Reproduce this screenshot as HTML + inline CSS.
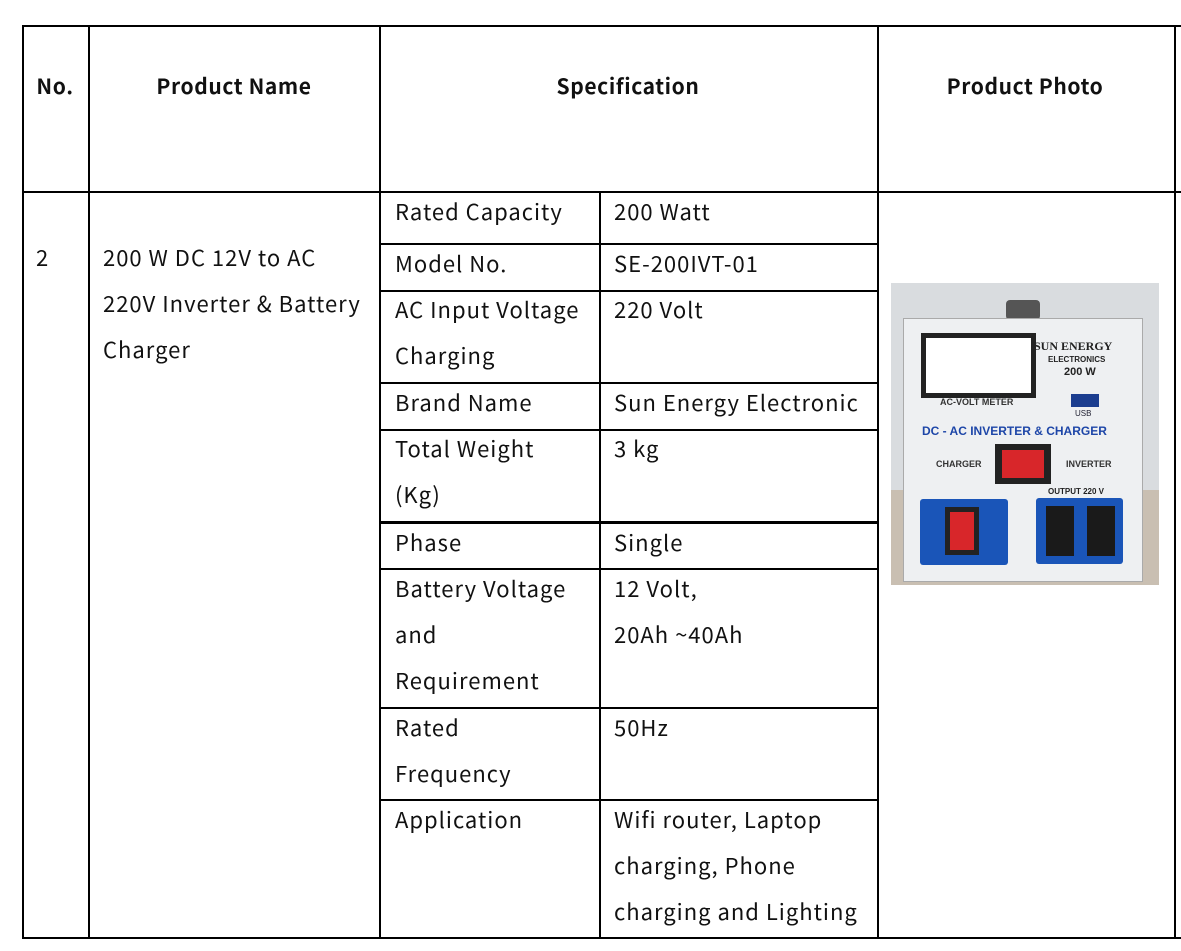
<!DOCTYPE html>
<html><head><meta charset="utf-8"><style>
body{margin:0;width:1181px;height:951px;background:#fff;position:relative;overflow:hidden;font-family:"Noto Sans CJK JP","Liberation Sans",sans-serif;color:#111}
.h{position:absolute;background:#000;height:1.5px}
.v{position:absolute;background:#000;width:1.5px}
.t{position:absolute;font-size:22px;line-height:46px;white-space:nowrap;letter-spacing:1px;margin-top:-2px}
.b{font-weight:bold;font-size:21px;letter-spacing:0.6px;transform:translateX(-50%);margin-top:0}
.p{position:absolute}
</style></head><body>
<div class="h" style="left:22px;top:25px;width:1159px"></div>
<div class="h" style="left:22px;top:191px;width:1159px"></div>
<div class="h" style="left:22px;top:937px;width:1159px"></div>
<div class="v" style="left:22px;top:25px;height:913px"></div>
<div class="v" style="left:88px;top:25px;height:913px"></div>
<div class="v" style="left:379px;top:25px;height:913px"></div>
<div class="v" style="left:599px;top:192px;height:746px"></div>
<div class="v" style="left:877px;top:25px;height:913px"></div>
<div class="v" style="left:1174px;top:25px;height:913px"></div>
<div class="h" style="left:379px;top:243px;width:498px"></div>
<div class="h" style="left:379px;top:290px;width:498px"></div>
<div class="h" style="left:379px;top:382px;width:498px"></div>
<div class="h" style="left:379px;top:429px;width:498px"></div>
<div class="h" style="left:379px;top:521px;width:498px;height:2.5px"></div>
<div class="h" style="left:379px;top:568px;width:498px"></div>
<div class="h" style="left:379px;top:707px;width:498px"></div>
<div class="h" style="left:379px;top:799px;width:498px"></div>

<div class="t b" style="left:55px;top:63px">No.</div>
<div class="t b" style="left:234px;top:63px">Product Name</div>
<div class="t b" style="left:628px;top:63px">Specification</div>
<div class="t b" style="left:1025px;top:63px">Product Photo</div>

<div class="t" style="left:36px;top:236px">2</div>
<div class="t" style="left:103px;top:236px">200 W DC 12V to AC<br>220V Inverter &amp; Battery<br>Charger</div>

<div class="t" style="left:395px;top:190px">Rated Capacity</div>
<div class="t" style="left:614px;top:190px">200 Watt</div>
<div class="t" style="left:395px;top:242px">Model No.</div>
<div class="t" style="left:614px;top:242px">SE-200IVT-01</div>
<div class="t" style="left:395px;top:288px">AC Input Voltage<br>Charging</div>
<div class="t" style="left:614px;top:288px">220 Volt</div>
<div class="t" style="left:395px;top:381px">Brand Name</div>
<div class="t" style="left:614px;top:381px">Sun Energy Electronic</div>
<div class="t" style="left:395px;top:427px">Total Weight<br>(Kg)</div>
<div class="t" style="left:614px;top:427px">3 kg</div>
<div class="t" style="left:395px;top:521px">Phase</div>
<div class="t" style="left:614px;top:521px">Single</div>
<div class="t" style="left:395px;top:567px">Battery Voltage<br>and<br>Requirement</div>
<div class="t" style="left:614px;top:567px">12 Volt,<br>20Ah ~40Ah</div>
<div class="t" style="left:395px;top:706px">Rated<br>Frequency</div>
<div class="t" style="left:614px;top:706px">50Hz</div>
<div class="t" style="left:395px;top:798px">Application</div>
<div class="t" style="left:614px;top:798px">Wifi router, Laptop<br>charging, Phone<br>charging and Lighting</div>

<!-- photo -->
<div class="p" style="left:891px;top:283px;width:268px;height:302px;background:#d9dcdf"></div>
<div class="p" style="left:891px;top:490px;width:268px;height:95px;background:#c9bfb2"></div>
<div class="p" style="left:1006px;top:300px;width:34px;height:20px;background:#555;border-radius:4px"></div>
<div class="p" style="left:903px;top:318px;width:238px;height:262px;background:#eef0f2;border:1px solid #aaa"></div>
<div class="p" style="left:921px;top:333px;width:105px;height:55px;background:#fff;border:5px solid #222"></div>
<div class="p" style="left:940px;top:397px;font:bold 9px 'Liberation Sans';color:#333">AC-VOLT METER</div>
<div class="p" style="left:1034px;top:339px;font:bold 12px 'Liberation Serif';color:#222">SUN ENERGY</div>
<div class="p" style="left:1048px;top:355px;font:bold 8px 'Liberation Sans';color:#222">ELECTRONICS</div>
<div class="p" style="left:1064px;top:366px;font:bold 11px 'Liberation Sans';color:#222">200 W</div>
<div class="p" style="left:1071px;top:394px;width:28px;height:13px;background:#1b3d8f"></div>
<div class="p" style="left:1075px;top:409px;font:8px 'Liberation Sans';color:#223">USB</div>
<div class="p" style="left:922px;top:424px;font:bold 12px 'Liberation Sans';color:#1d46a8">DC - AC INVERTER &amp; CHARGER</div>
<div class="p" style="left:995px;top:444px;width:56px;height:40px;background:#222"></div>
<div class="p" style="left:1002px;top:450px;width:42px;height:28px;background:#d8262a"></div>
<div class="p" style="left:936px;top:459px;font:bold 9px 'Liberation Sans';color:#333">CHARGER</div>
<div class="p" style="left:1066px;top:459px;font:bold 9px 'Liberation Sans';color:#333">INVERTER</div>
<div class="p" style="left:1048px;top:487px;font:bold 8px 'Liberation Sans';color:#222">OUTPUT 220 V</div>
<div class="p" style="left:920px;top:499px;width:88px;height:66px;background:#1a55b8;border-radius:3px"></div>
<div class="p" style="left:945px;top:507px;width:34px;height:48px;background:#222"></div>
<div class="p" style="left:950px;top:512px;width:24px;height:38px;background:#d8262a"></div>
<div class="p" style="left:1036px;top:498px;width:87px;height:66px;background:#1a55b8;border-radius:3px"></div>
<div class="p" style="left:1046px;top:506px;width:28px;height:50px;background:#1a1a1a"></div>
<div class="p" style="left:1087px;top:506px;width:28px;height:50px;background:#1a1a1a"></div>
</body></html>
